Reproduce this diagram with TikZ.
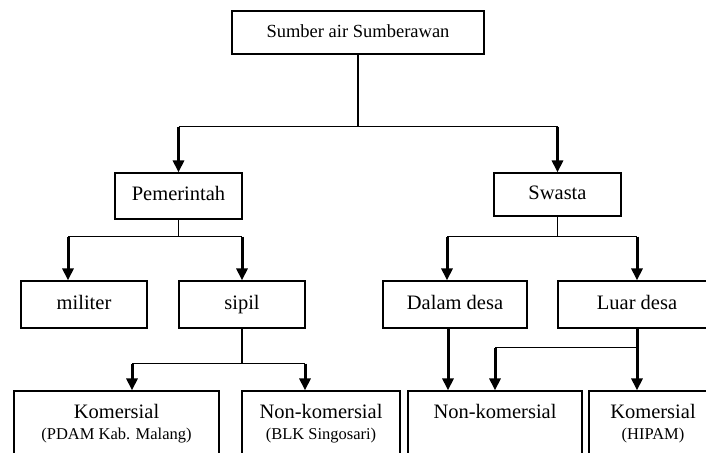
\documentclass[tikz,border=0pt]{standalone}
\usepackage{fontspec}
\setmainfont{Liberation Serif}
\usetikzlibrary{arrows.meta,calc}
\begin{document}
\begin{tikzpicture}[x=1pt,y=-1pt,
  box/.style={draw,line width=1.2pt,inner sep=0pt,align=center,font=\fontsize{20.5}{21}\selectfont},
  onebox/.style={box,text height=14pt,text depth=4.5pt},
  thinline/.style={line width=1.2pt},
  thickarr/.style={line width=3pt,-{Triangle[length=12pt,width=11pt]}}]
\useasboundingbox (0,0) rectangle (706,452);
\clip (0,0) rectangle (706,452);
\newcommand{\subtxt}[1]{{\fontsize{16.5}{21}\selectfont #1}}
% nodes
\node[onebox,minimum width=252pt,minimum height=43pt,font=\fontsize{18.5}{21}\selectfont] (top) at (358,32.5) {Sumber air Sumberawan};
\node[onebox,minimum width=127pt,minimum height=46pt] (pem) at (178.5,196) {Pemerintah};
\node[onebox,minimum width=127pt,minimum height=43pt] (swa) at (557.5,194.5) {Swasta};
\node[onebox,minimum width=126pt,minimum height=47pt] (mil) at (84,304.5) {militer};
\node[onebox,minimum width=126pt,minimum height=47pt] (sip) at (242,304.5) {sipil};
\node[onebox,minimum width=144pt,minimum height=47pt] (dal) at (455,304.5) {Dalam desa};
\node[onebox,minimum width=158pt,minimum height=47pt] (lua) at (637,304.5) {Luar desa};
\node[box,minimum width=205pt,minimum height=66pt] (kom) at (116.5,424) {Komersial\\\subtxt{(PDAM Kab. Malang)}};
\node[box,minimum width=158pt,minimum height=66pt] (blk) at (321,424) {Non-komersial\\\subtxt{(BLK Singosari)}};
\node[box,minimum width=174pt,minimum height=66pt] (nk) at (495,424) {Non-komersial\\\subtxt{\vphantom{(PDAM)}}};
\node[box,minimum width=128pt,minimum height=66pt] (hip) at (653,424) {Komersial\\\subtxt{(HIPAM)}};
% top -> Pemerintah, Swasta
\coordinate (j1) at ($(top.south)+(0,72)$);
\draw[thinline] (top.south) -- (j1);
\draw[thinline] (j1 -| pem.north) -- (j1 -| swa.north);
\draw[thickarr] (j1 -| pem.north) -- (pem.north);
\draw[thickarr] (j1 -| swa.north) -- (swa.north);
% Pemerintah -> militer, sipil
\coordinate (j2) at ($(pem.south)+(0,17)$);
\coordinate (m1) at ($(mil.north)+(-16,0)$);
\draw[thinline] (pem.south) -- (j2);
\draw[thinline] (j2 -| m1) -- (j2 -| sip.north);
\draw[thickarr] (j2 -| m1) -- (m1);
\draw[thickarr] (j2 -| sip.north) -- (sip.north);
% Swasta -> Dalam desa, Luar desa
\coordinate (j3) at ($(swa.south)+(0,20)$);
\coordinate (d1) at ($(dal.north)+(-8,0)$);
\draw[thinline] (swa.south) -- (j3);
\draw[thinline] (j3 -| d1) -- (j3 -| lua.north);
\draw[thickarr] (j3 -| d1) -- (d1);
\draw[thickarr] (j3 -| lua.north) -- (lua.north);
% sipil -> Komersial, Non-komersial
\coordinate (j4) at ($(sip.south)+(0,35)$);
\coordinate (k1) at ($(kom.north)+(15.5,0)$);
\coordinate (b1) at ($(blk.north)+(-16,0)$);
\draw[thinline] (sip.south) -- (j4);
\draw[thinline] (j4 -| k1) -- (j4 -| b1);
\draw[thickarr] (j4 -| k1) -- (k1);
\draw[thickarr] (j4 -| b1) -- (b1);
% Dalam desa -> Non-komersial
\coordinate (d2) at ($(dal.south)+(-7,0)$);
\draw[thickarr] (d2) -- (d2 |- nk.north);
% Luar desa -> Komersial (HIPAM), Non-komersial
\coordinate (j5) at ($(lua.south)+(0,19)$);
\draw[thickarr] (lua.south) -- (lua.south |- hip.north);
\draw[thinline] (j5) -- (j5 -| nk.north);
\draw[thickarr] (j5 -| nk.north) -- (nk.north);
\end{tikzpicture}
\end{document}
